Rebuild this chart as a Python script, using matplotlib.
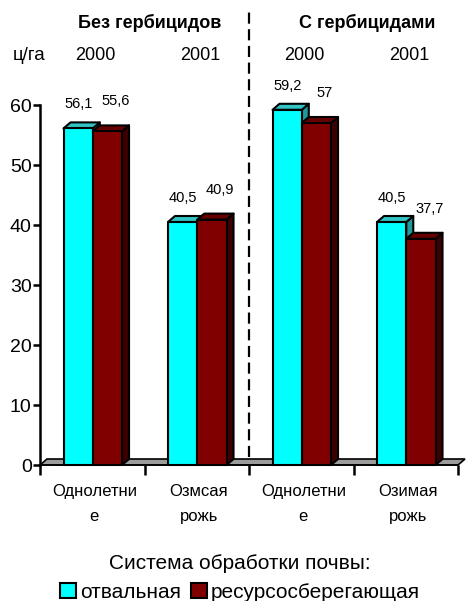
import matplotlib.pyplot as plt
from matplotlib.patches import Polygon, Patch

plt.rcParams['font.family'] = ['Liberation Sans', 'DejaVu Sans']

# урожайность, ц/га
categories = ['Однолетни\nе', 'Озмсая\nрожь', 'Однолетни\nе', 'Озимая\nрожь']
years = ['2000', '2001', '2000', '2001']
groups = ['Без гербицидов', 'С гербицидами']
otvalnaya = [56.1, 40.5, 59.2, 40.5]
resurs = [55.6, 40.9, 57.0, 37.7]
otvalnaya_lbl = ['56,1', '40,5', '59,2', '40,5']
resurs_lbl = ['55,6', '40,9', '57', '37,7']
series_names = ['отвальная', 'ресурсосберегающая']

# цвета граней: фронт, верх, бок
cyan = ('#00FFFF', '#33C4C4', '#1E9A9A')
dred = ('#800000', '#660000', '#3C0000')

W, H = 468, 601
fig = plt.figure(figsize=(W / 100, H / 100), dpi=100)
ax = fig.add_axes([40 / W, 1 - 465 / H, 418 / W, 360 / H])
ax.set_xlim(0, 4)
ax.set_ylim(0, 60)

dx, dy = 0.067, 1.0     # смещение "глубины"
bw = 0.28
start = 0.225


def box(x0, v, faces):
    x1 = x0 + bw
    front, top, side = faces
    kw = dict(edgecolor='black', linewidth=1.5, clip_on=False, joinstyle='round')
    ax.add_patch(Polygon([(x1, 0), (x1 + dx, dy), (x1 + dx, v + dy), (x1, v)],
                         facecolor=side, **kw))
    ax.add_patch(Polygon([(x0, v), (x1, v), (x1 + dx, v + dy), (x0 + dx, v + dy)],
                         facecolor=top, **kw))
    ax.add_patch(Polygon([(x0, 0), (x1, 0), (x1, v), (x0, v)],
                         facecolor=front, **kw))


# пол
ax.add_patch(Polygon([(0, 0), (4, 0), (4 + dx, dy), (dx, dy)], facecolor='#9C9C9C',
                     edgecolor='black', linewidth=1.2, clip_on=False))

for i in range(len(categories)):
    xc = i + start
    xr = xc + bw
    box(xc, otvalnaya[i], cyan)
    box(xr, resurs[i], dred)
    ax.text(xc + bw / 2, otvalnaya[i] + 4, otvalnaya_lbl[i], ha='center', va='center',
            fontsize=10.5)
    ax.text(xr + bw / 2 + 0.08, resurs[i] + 5, resurs_lbl[i], ha='center', va='center',
            fontsize=10.5)
    ax.text(i + 0.52, -3.1, categories[i], ha='center', va='top', fontsize=12,
            linespacing=1.85)
    ax.text(i + 0.53, 68.3, years[i], ha='center', va='center', fontsize=13,
            clip_on=False)

ax.text(1.05, 73.7, groups[0], ha='center', va='center', fontsize=13,
        fontweight='bold')
ax.text(3.13, 73.7, groups[1], ha='center', va='center', fontsize=13,
        fontweight='bold')
ax.text(-0.1, 68.3, 'ц/га', ha='center', va='center', fontsize=13.5)

# разделитель
ax.plot([2, 2], [1.3, 75.5], color='black', linestyle=(0, (5, 2.5)), linewidth=1.6,
        clip_on=False)

for s in ['top', 'right']:
    ax.spines[s].set_visible(False)
ax.spines['left'].set_linewidth(1.8)
ax.set_yticks(range(0, 61, 10))
ax.tick_params(axis='y', labelsize=14, length=5, width=1.8, pad=1)
ax.set_xticks(range(5))
ax.set_xticklabels([])
ax.tick_params(axis='x', length=7, width=1.8, direction='out')
ax.spines['bottom'].set_linewidth(1.2)

handles = [Patch(facecolor=cyan[0], edgecolor='black', linewidth=1.5),
           Patch(facecolor=dred[0], edgecolor='black', linewidth=1.5)]
leg = fig.legend(handles, series_names, title='Система обработки почвы:', ncol=2,
                 loc='center', bbox_to_anchor=(240 / W, 1 - 578 / H), frameon=False,
                 fontsize=15, title_fontsize=15, handlelength=0.75, handleheight=0.75,
                 handletextpad=0.2, columnspacing=0.5, borderpad=0, labelspacing=0.45)

fig.savefig('out.png', dpi=100)
